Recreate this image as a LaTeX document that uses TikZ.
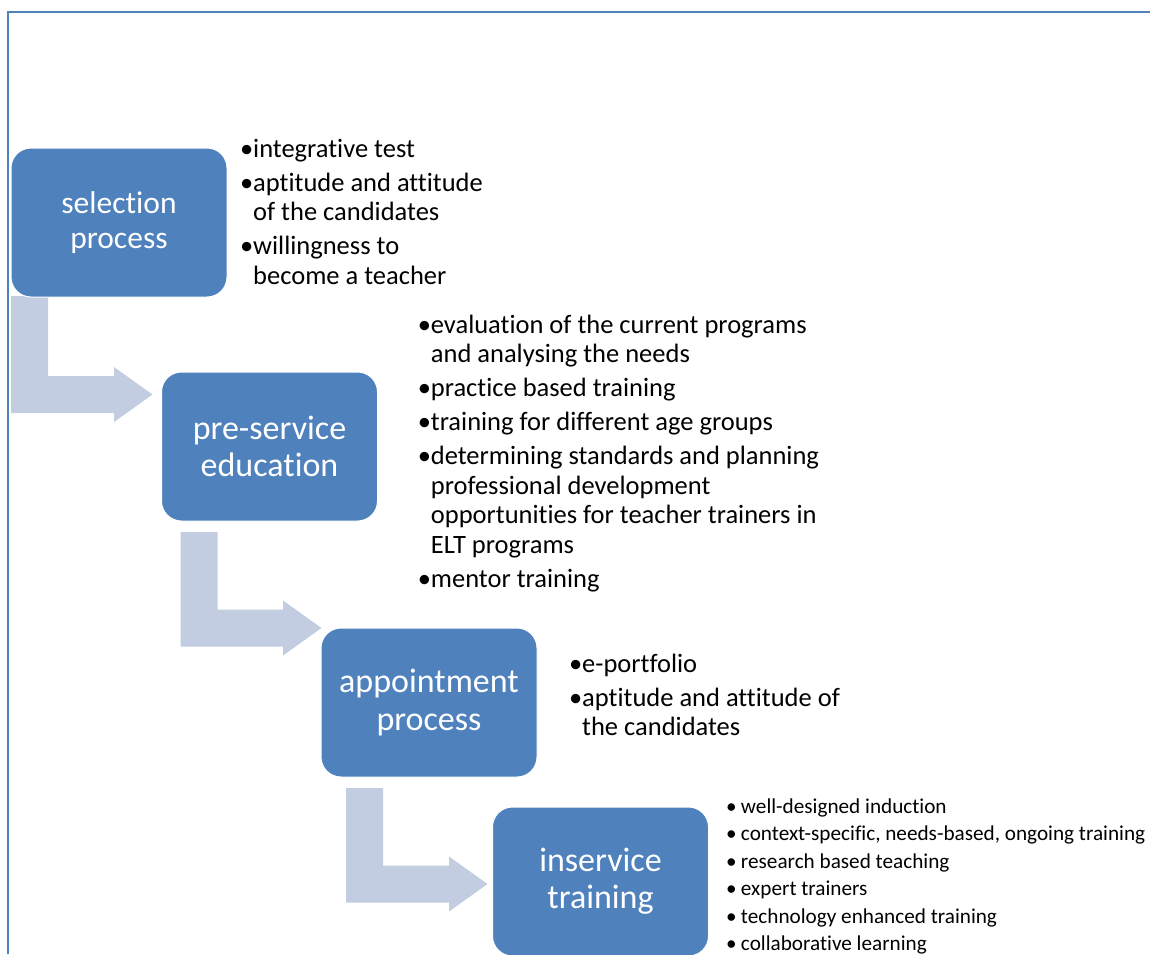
\documentclass[tikz,border=0pt]{standalone}
\usepackage{fontspec}
\setmainfont{Carlito}[Ligatures=NoCommon]
\usepackage{tikz}
\usetikzlibrary{positioning}
\usepackage{xcolor}
\definecolor{stepblue}{HTML}{4F81BD}
\definecolor{bendgray}{HTML}{C2CDE2}
% bullet hanging to the left of a list line
\newcommand{\bul}[1][13pt]{\llap{\makebox[#1][l]{\textbullet}}}

\begin{document}
\begin{tikzpicture}[x=1pt, y=-1pt]
    % Define styles
    \tikzstyle{stage}=[draw=white, line width=1pt, fill=stepblue, rounded corners=20pt, minimum width=216pt, minimum height=149pt, text=white, align=center, inner sep=0pt]
    \tikzstyle{points}=[anchor=base west, inner sep=0pt, text=black]
    \tikzstyle{bentarrow}=[fill=bendgray]

    \useasboundingbox (0,0) rectangle (1150,954);

    % Frame (left and top edges only)
    \draw[stepblue, line width=2pt] (8,954) -- (8,12) -- (1150,12);

    % Bent arrows: bar left / bar top / horizontal bar top / head base
    \foreach \l/\t/\h/\x in {11/296/376/114, 180.5/532/609.5/283, 346/788/865.5/449} {
        \fill[bentarrow] (\l,\t) -- (\l+37,\t) -- (\l+37,\h) -- (\x,\h) -- (\x,\h-9) -- (\x+38.5,\h+18.5) -- (\x,\h+46) -- (\x,\h+37) -- (\l,\h+37) -- cycle;
    }

    % Stages
    \node[stage, font=\fontsize{31.5}{34.6}\selectfont] (selection) at (119,222.5) {selection\\process};
    \node[stage, font=\fontsize{34}{37.4}\selectfont] (preservice) at (269.5,446.5) {pre-service\\education};
    \node[stage, font=\fontsize{34}{37.4}\selectfont] (appointment) at (429,702.5) {appointment\\process};
    \node[stage, font=\fontsize{34}{37.4}\selectfont] (inservice) at (600.5,881.5) {inservice\\training};

    % Bullet lists beside each stage
    \node[points, font=\fontsize{26.5}{29.7}\selectfont] (selectionpts) at (253,157) {\begin{tabular}[t]{@{}l@{}}
        \bul integrative test\\[4.3pt]
        \bul aptitude and attitude\\
        of the candidates\\[4.3pt]
        \bul willingness to\\
        become a teacher
    \end{tabular}};
    \node[points, font=\fontsize{26.5}{29.5}\selectfont] (preservicepts) at (430.7,333) {\begin{tabular}[t]{@{}l@{}}
        \bul evaluation of the current programs\\
        and analysing the needs\\[4.5pt]
        \bul practice based training\\[4.5pt]
        \bul training for different age groups\\[4.5pt]
        \bul determining standards and planning\\
        professional development\\
        opportunities for teacher trainers in\\
        ELT programs\\[4.5pt]
        \bul mentor training
    \end{tabular}};
    \node[points, font=\fontsize{26.5}{29.5}\selectfont] (appointmentpts) at (582,672) {\begin{tabular}[t]{@{}l@{}}
        \bul e-portfolio\\[4.5pt]
        \bul aptitude and attitude of\\
        the candidates
    \end{tabular}};
    \node[points, font=\fontsize{21.2}{27.5}\selectfont] (inservicepts) at (736,813) {\begin{tabular}[t]{@{}l@{}}
        \bul[10pt] well-designed induction\\
        \bul[10pt] context-specific, needs-based, ongoing training\\
        \bul[10pt] research based teaching\\
        \bul[10pt] expert trainers\\
        \bul[10pt] technology enhanced training\\
        \bul[10pt] collaborative learning
    \end{tabular}};
\end{tikzpicture}
\end{document}
